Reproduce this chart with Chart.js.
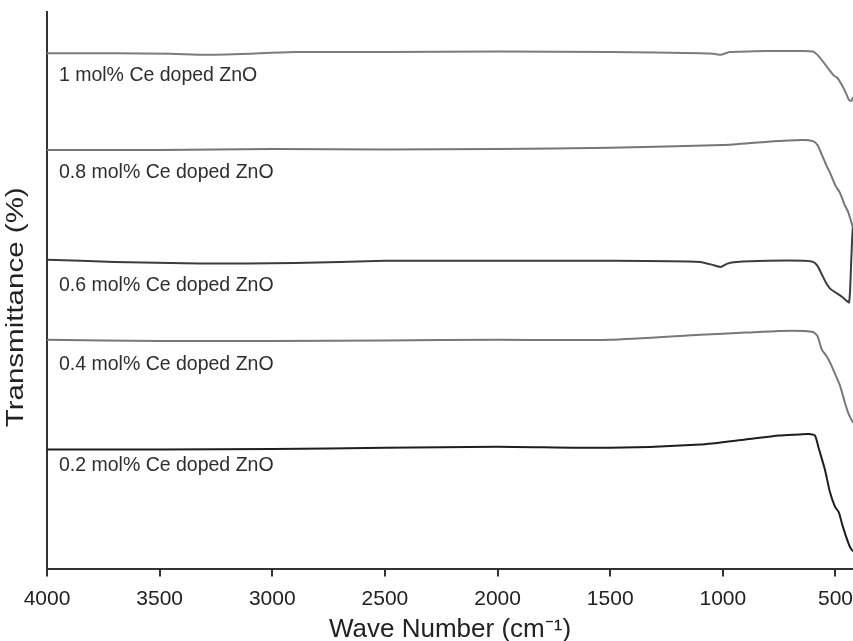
<!DOCTYPE html>
<html>
<head>
<meta charset="utf-8">
<script src="https://cdn.jsdelivr.net/npm/chart.js@4.4.0/dist/chart.umd.min.js"></script>
<style>
  html, body { margin: 0; padding: 0; background: #fff; overflow: hidden; }
  /* a bit wider than the window so the last tick label is cut at the edge, like the figure */
  #wrap { width: 863px; height: 641px; }
</style>
</head>
<body>
<div id="wrap"><canvas id="ftirChart"></canvas></div>
<script>
// FTIR spectra - Ce doped ZnO
// Wave numbers (cm-1) and transmittance
const waveMol1 = [4000, 3700, 3450, 3300, 3100, 2900, 2500, 2000, 1500, 1100, 1040, 1010, 970, 800, 650, 600, 580, 550, 520, 505, 495, 485, 465, 450, 440, 430, 422];
const transMol1 = [92.6, 92.6, 92.5, 92.3, 92.5, 92.8, 92.8, 92.9, 92.8, 92.6, 92.5, 92.3, 92.8, 93.0, 93.0, 92.9, 92.3, 90.8, 89.2, 88.5, 88.3, 87.8, 86.4, 85.1, 84.2, 84.0, 84.7];

const waveMol08 = [4000, 3500, 3000, 2500, 2000, 1500, 1000, 800, 650, 600, 580, 560, 540, 524, 500, 480, 460, 444, 430, 422];
const transMol08 = [75.2, 75.2, 75.4, 75.3, 75.4, 75.6, 76.1, 76.7, 77.0, 76.8, 76.1, 74.3, 72.4, 71.1, 68.8, 67.5, 65.4, 64.1, 62.3, 61.2];

const waveMol06 = [4000, 3700, 3325, 2900, 2500, 2000, 1500, 1100, 1040, 1010, 980, 940, 800, 640, 600, 580, 560, 540, 524, 500, 470, 450, 440, 435, 430, 425, 422];
const transMol06 = [55.5, 55.1, 54.8, 54.9, 55.3, 55.3, 55.3, 55.1, 54.5, 54.2, 54.8, 55.1, 55.3, 55.3, 55.1, 54.4, 52.8, 51.2, 50.3, 49.6, 48.8, 48.1, 47.8, 50.1, 55.5, 60.0, 61.8];

const waveMol04 = [4000, 3500, 3000, 2500, 2000, 1500, 1100, 900, 750, 640, 600, 580, 560, 540, 524, 500, 480, 458, 440, 422];
const transMol04 = [41.1, 40.9, 40.9, 41.0, 41.1, 41.1, 42.0, 42.4, 42.7, 42.7, 42.5, 41.8, 39.3, 38.2, 37.0, 34.8, 32.9, 29.8, 27.6, 26.2];

const waveMol02 = [4000, 3500, 3000, 2500, 2000, 1500, 1100, 900, 750, 660, 620, 591, 575, 547, 525, 502, 485, 470, 444, 432, 422];
const transMol02 = [21.4, 21.4, 21.5, 21.7, 21.9, 21.7, 22.3, 23.2, 23.9, 24.1, 24.2, 23.9, 21.7, 17.8, 13.8, 11.1, 10.1, 7.9, 4.7, 3.6, 3.1];

// curve labels
const seriesNames = ["1 mol% Ce doped ZnO", "0.8 mol% Ce doped ZnO", "0.6 mol% Ce doped ZnO", "0.4 mol% Ce doped ZnO", "0.2 mol% Ce doped ZnO"];
const labelWave = 3947;
const labelTrans = [88.6, 71.2, 50.9, 36.6, 18.5];

// x ticks
const xTicks = [4000, 3500, 3000, 2500, 2000, 1500, 1000, 500];

const yTitleText = "Transmittance (%)";

const lineColors = ["#7c7c7c", "#767676", "#3c3c3c", "#787878", "#1e1e1e"];

function toPoints(xs, ys) {
  return xs.map((x, i) => ({ x: x, y: ys[i] }));
}

const allWaves = [waveMol1, waveMol08, waveMol06, waveMol04, waveMol02];
const allTrans = [transMol1, transMol08, transMol06, transMol04, transMol02];

const datasets = seriesNames.map((name, i) => ({
  label: name,
  data: toPoints(allWaves[i], allTrans[i]),
  borderColor: lineColors[i],
  borderWidth: 2,
  pointRadius: 0,
  tension: 0.2,
  fill: false,
}));

const fontFamily = "'Liberation Sans', Arial, sans-serif";

// draws the text next to each curve
const curveLabels = {
  id: "curveLabels",
  afterDatasetsDraw(chart) {
    const ctx = chart.ctx;
    const xs = chart.scales.x;
    const ys = chart.scales.y;
    ctx.save();
    ctx.font = "19.5px " + fontFamily;
    ctx.fillStyle = "#2e2e2e";
    ctx.textAlign = "left";
    ctx.textBaseline = "middle";
    seriesNames.forEach((name, i) => {
      ctx.fillText(name, xs.getPixelForValue(labelWave), ys.getPixelForValue(labelTrans[i]));
    });
    ctx.restore();
  },
};

// y title, a bit stretched along its length like the original figure
const yTitle = {
  id: "yTitle",
  afterDraw(chart) {
    const ctx = chart.ctx;
    const area = chart.chartArea;
    ctx.save();
    ctx.font = "23px " + fontFamily;
    const w = ctx.measureText(yTitleText).width;
    ctx.translate(area.left - 30, (area.top + area.bottom) / 2 + 17);
    ctx.rotate(-Math.PI / 2);
    ctx.scale(240 / w, 1);
    ctx.fillStyle = "#222";
    ctx.textAlign = "center";
    ctx.textBaseline = "middle";
    ctx.fillText(yTitleText, 0, 0);
    ctx.restore();
  },
};

const ctx = document.getElementById("ftirChart");
new Chart(ctx, {
  type: "line",
  data: { datasets: datasets },
  options: {
    responsive: true,
    maintainAspectRatio: false,
    animation: false,
    layout: { padding: { left: 47, right: 0, top: 12, bottom: -4 } },
    plugins: {
      legend: { display: false },
      tooltip: { enabled: false },
    },
    scales: {
      x: {
        type: "linear",
        reverse: true,
        min: 422,
        max: 4000,
        afterBuildTicks: (scale) => {
          scale.ticks = xTicks.map((v) => ({ value: v }));
        },
        ticks: {
          color: "#222",
          font: { family: fontFamily, size: 21 },
          padding: 10,
          maxRotation: 0,
          callback: (value) => String(value),
        },
        grid: {
          display: true,
          drawOnChartArea: false,
          drawTicks: true,
          tickLength: 8,
          color: "#333",
          lineWidth: 2,
        },
        border: { display: true, color: "#333", width: 2 },
        title: {
          display: true,
          text: "Wave Number (cm\u207B\u00B9)",
          color: "#222",
          font: { family: fontFamily, size: 26 },
          padding: { top: -8, bottom: 0 },
        },
      },
      y: {
        type: "linear",
        min: 0,
        max: 100,
        ticks: { display: false },
        grid: { display: false, drawTicks: false },
        border: { display: true, color: "#333", width: 2 },
        title: { display: false },
      },
    },
  },
  plugins: [curveLabels, yTitle],
});
</script>
</body>
</html>
